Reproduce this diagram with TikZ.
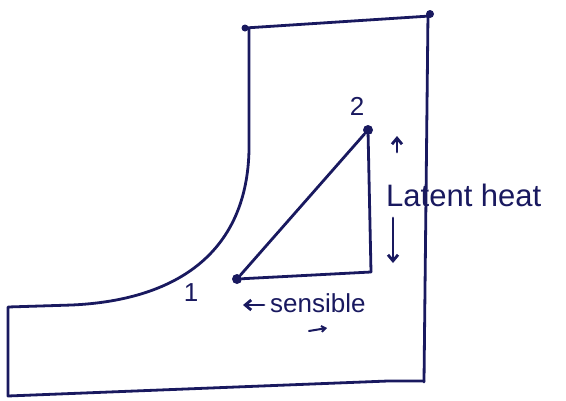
\documentclass[tikz,border=0pt]{standalone}
\usepackage{fontspec}
\setmainfont{Liberation Sans}
\usetikzlibrary{arrows.meta}
\definecolor{ink}{RGB}{25,25,95}
\begin{document}
\begin{tikzpicture}[x=1pt,y=-1pt,
  ink line/.style={draw=ink,line width=2.8pt,line join=round,line cap=round},
  dot/.style={circle,fill=ink,inner sep=0pt,minimum size=10pt},
  lbl/.style={text=ink,inner sep=0pt,font=\fontsize{26}{28}\selectfont},
  arr/.style={ink line,-{Straight Barb[length=6pt,width=10pt]}}]
\useasboundingbox (0,0) rectangle (566,400);
% outline of the chart
\draw[ink line] (245,28) -- (430,16);
\draw[ink line] (428,14) -- (424,382);
\draw[ink line] (424,381) -- (388,381) -- (8,396) -- (8,307) -- (72,305)
  .. controls (180,300) and (247,250) .. (249,150) -- (249,28);
\fill[ink] (245,28) circle (3.5pt);
\fill[ink] (430,14) circle (4pt);
% process points
\node[dot] (p1) at (237,279) {};
\node[dot] (p2) at (368,130) {};
\coordinate (c) at (371,272);
\draw[ink line] (p1) -- (p2);
\draw[ink line] (p2) -- (c);
\draw[ink line] (p1) -- (c);
\node[lbl] (n1) at (191,293) {1};
\node[lbl] (n2) at (357,106) {2};
% latent heat
\coordinate (ua) at (397,152);
\coordinate (ub) at (397,136);
\draw[arr] (ua) -- (ub);
\node[lbl,anchor=base west,font=\fontsize{31}{33}\selectfont] (lh) at (386,206) {Latent heat};
\coordinate (da) at (393,218);
\coordinate (db) at (393,263);
\draw[arr] (da) -- (db);
% sensible
\coordinate (sa) at (264,305);
\coordinate (sb) at (243,305);
\draw[arr] (sa) -- (sb);
\node[lbl,anchor=base west] (sens) at (270,312) {sensible};
\coordinate (ra) at (309,331);
\coordinate (rb) at (327,328);
\draw[ink line,line width=2pt,-{Straight Barb[length=4pt,width=6pt]}] (ra) -- (rb);
\end{tikzpicture}
\end{document}
